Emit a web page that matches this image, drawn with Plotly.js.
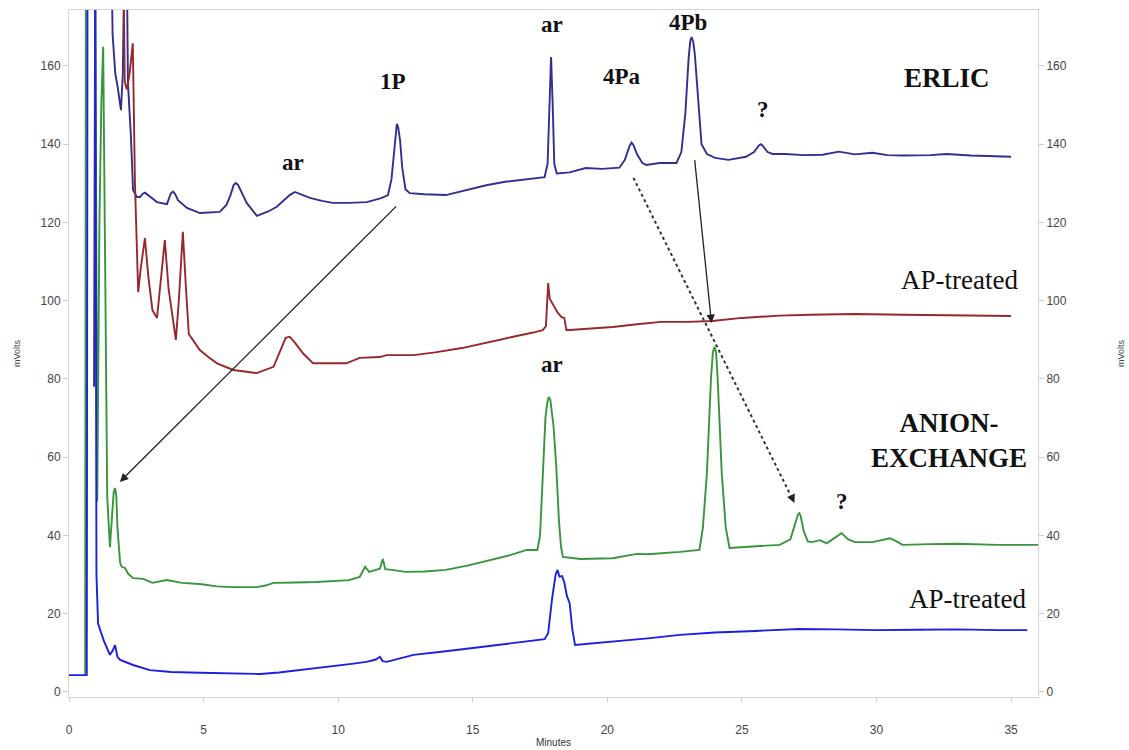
<!DOCTYPE html>
<html>
<head>
<meta charset="utf-8">
<script src="https://cdn.plot.ly/plotly-3.0.1.min.js"></script>
<style>html,body{margin:0;padding:0;background:#fff;}#chart{width:1129px;height:750px;}</style>
</head>
<body>
<div id="chart"></div>
<script>
// ERLIC trace (navy)
const erlicX = [0.93,0.98,1.55,1.62,1.72,1.8,1.93,2.0,2.08,2.13,2.19,2.3,2.38,2.52,2.64,2.73,2.82,2.9,3.0,3.27,3.64,3.78,3.86,3.94,4.05,4.38,4.86,5.6,5.85,6.0,6.12,6.2,6.28,6.4,6.6,6.98,7.4,7.72,8.0,8.2,8.39,8.6,8.95,9.4,9.8,10.4,11.06,11.6,11.85,11.98,12.08,12.13,12.18,12.23,12.3,12.38,12.5,12.66,13.2,14.0,14.8,15.5,16.2,16.9,17.67,17.78,17.85,17.91,17.97,18.03,18.12,18.6,19.2,19.8,20.45,20.65,20.83,20.9,20.97,21.1,21.3,21.45,21.94,22.57,22.75,22.9,23.02,23.08,23.13,23.19,23.25,23.38,23.5,23.7,24.0,24.5,25.15,25.45,25.63,25.7,25.77,25.95,26.14,26.6,27.3,28.0,28.6,29.2,29.85,30.4,31.0,32.0,32.6,33.5,34.3,35.0];
const erlicY = [78,200,200,168,158,155,148.7,158,200,200,155.6,142,128.3,126.5,126.5,127.3,127.6,127.2,126.5,125.2,124.7,127.4,127.9,127.3,125.7,123.7,122.4,122.7,124.5,127,129.6,130.1,129.6,128,125,121.7,122.8,124,125.8,127,127.8,127.3,126.3,125.5,125,125,125.2,126.2,127,131,139,143.3,145.2,144.3,141,134,128.5,127.5,127.2,127,128.3,129.5,130.4,131,131.6,135,150,162.3,150,135,132.5,132.8,133.9,133.7,134,136,139.6,140.4,139.8,137.5,135.2,134.7,135.2,135.2,138,148,162,166.3,167.4,166.2,163,150,140,137.5,136.5,136,136.8,138,139.7,140,139.6,138,137.5,137.5,137.2,137.3,138.1,137.4,137.8,137.2,137.1,137.2,137.5,137.1,136.9,136.8];

// ERLIC AP-treated trace (dark red)
const erlicApX = [0.95,2.0,2.07,2.15,2.25,2.37,2.45,2.57,2.66,2.82,2.95,3.1,3.27,3.4,3.56,3.7,3.97,4.08,4.23,4.33,4.45,4.6,4.86,5.2,5.5,6.1,6.97,7.6,7.85,8.05,8.2,8.4,8.7,9.07,10.3,10.8,11.55,11.8,12.8,13.6,14.6,15.6,16.5,17.2,17.6,17.72,17.8,17.86,17.93,18.05,18.15,18.3,18.4,18.48,18.6,19.4,20.2,21.1,22.0,23.0,23.9,25.0,26.4,27.5,29.2,31.0,33.0,35.0];
const erlicApY = [200,200,156,154,158,165.8,130,102.2,108,116,106,97.6,95.6,104,115.5,103,90,100,117.6,105,91.5,90,87.4,85.5,84,82.3,81.5,83.1,87,90.5,90.8,89.2,86.5,84,84,85.4,85.6,86.1,86.1,86.8,87.9,89.5,90.8,91.8,92.5,93.5,104.5,100.5,99.7,98.4,97,95.8,95.6,92.5,92.5,92.9,93.3,94,94.6,94.6,94.8,95.6,96.2,96.4,96.6,96.4,96.3,96.1];

// Anion-exchange trace (green)
const anionX = [0.6,0.63,0.97,1.05,1.13,1.2,1.27,1.33,1.42,1.52,1.6,1.66,1.71,1.76,1.8,1.9,1.96,2.08,2.2,2.38,2.76,3.1,3.63,4.2,4.86,5.5,6.1,6.97,7.3,7.6,8.4,9.2,10.4,10.8,11.0,11.15,11.4,11.55,11.66,11.75,12.0,12.5,13.2,14.0,14.8,15.6,16.4,17.0,17.4,17.5,17.6,17.7,17.76,17.82,17.88,17.94,18.0,18.1,18.2,18.28,18.35,19.0,20.2,21.1,21.5,22.7,23.42,23.55,23.7,23.85,23.92,23.98,24.04,24.1,24.25,24.4,24.54,25.4,26.4,26.8,27.0,27.08,27.13,27.18,27.3,27.45,27.6,27.9,28.15,28.45,28.7,28.95,29.2,29.85,30.2,30.5,30.8,30.96,32.0,33.0,34.5,36.0];
const anionY = [4.5,200,200,48.6,120,150,164.9,120,50,37,44,51,52.1,50,42,33,32,31.7,30.2,29.1,28.9,27.9,28.6,27.9,27.6,27,26.8,26.8,27.2,27.9,28,28.1,28.6,29.4,32,30.7,31.2,31.5,34,31.4,31.2,30.7,30.8,31.2,32.3,33.7,35,36.3,36.3,40,56,70,73.6,75.4,74.8,71.5,68,58,44,37,34.5,34,34.2,35.3,35.2,35.8,36.3,42,56,80,86.8,88.2,86.8,80,56,42,36.8,37.2,37.6,39,44,45.3,45.7,45,41,38.5,38.3,38.8,38,39.5,40.6,39,38.3,38.3,38.8,39.3,38.3,37.6,37.8,37.9,37.6,37.6];

// Anion-exchange AP-treated trace (blue)
const anionApX = [0,0.66,0.69,0.97,1.02,1.08,1.2,1.3,1.52,1.62,1.71,1.8,1.9,2.1,2.38,3.0,3.8,4.86,6.0,7.1,7.8,8.6,9.6,10.5,11.05,11.4,11.55,11.65,11.8,12.3,12.8,14.0,15.3,16.5,17.67,17.8,17.95,18.08,18.15,18.22,18.32,18.4,18.5,18.6,18.7,18.8,19.5,20.2,21.5,22.7,24.0,25.5,26.4,27.1,28.5,30.0,31.5,33.0,34.5,35.6];
const anionApY = [4.3,4.3,200,200,30,17.5,15,13,9.5,10.5,12,9,8.2,7.7,6.9,5.6,5.1,4.9,4.7,4.6,5.0,5.6,6.5,7.2,7.7,8.3,9.0,7.9,7.7,8.7,9.5,10.4,11.5,12.5,13.5,15,24,30,31.2,29.5,29.6,28,24.5,22.7,16,12,12.4,12.8,13.7,14.6,15.2,15.6,15.8,16.1,16.0,15.8,15.9,16.0,15.8,15.8];

const yTicks = [0,20,40,60,80,100,120,140,160];
const xTicks = [0,5,10,15,20,25,30,35];

function lineStyle(color) {
  return {color: color, width: 1.9};
}

const traces = [
  {x: erlicX, y: erlicY, mode: 'lines', line: lineStyle('rgb(48,48,145)'), hoverinfo: 'skip'},
  {x: erlicApX, y: erlicApY, mode: 'lines', line: lineStyle('rgb(150,40,45)'), hoverinfo: 'skip'},
  {x: anionX, y: anionY, mode: 'lines', line: lineStyle('rgb(55,150,60)'), hoverinfo: 'skip'},
  {x: anionApX, y: anionApY, mode: 'lines', line: lineStyle('rgb(30,30,225)'), hoverinfo: 'skip'},
  {x: anionApX, y: anionApY, yaxis: 'y2', mode: 'lines', line: {color: 'rgba(0,0,0,0)', width: 0}, hoverinfo: 'skip'}
];

const serif = 'Liberation Serif, Times New Roman, serif';
function lab(text, x, y, size, bold) {
  return {text: bold ? '<b>' + text + '</b>' : text, x: x, y: y, xref: 'x', yref: 'y',
    showarrow: false, xanchor: 'center', yanchor: 'middle',
    font: {family: serif, size: size, color: '#111'}};
}
function arrow(x, y, ax, ay) {
  return {x: x, y: y, ax: ax, ay: ay, xref: 'x', yref: 'y', axref: 'x', ayref: 'y',
    text: '', showarrow: true, arrowhead: 2, arrowsize: 1.3, arrowwidth: 1.3, arrowcolor: '#222'};
}

const annotations = [
  lab('ar', 8.31, 135.2, 23, true),
  lab('1P', 12.03, 155.9, 23, true),
  lab('ar', 17.93, 170.5, 23, true),
  lab('4Pa', 20.56, 157.2, 23, true),
  lab('4Pb', 23.01, 171.0, 23, true),
  lab('?', 25.8, 148.8, 23, true),
  lab('ERLIC', 32.63, 156.9, 27, true),
  lab('AP-treated', 33.07, 105.3, 27, false),
  lab('ar', 17.93, 83.8, 23, true),
  lab('ANION-<br>EXCHANGE', 32.7, 64.4, 27, true),
  lab('?', 28.73, 48.6, 23, true),
  lab('AP-treated', 33.37, 23.8, 27, false),
  arrow(1.89, 53.7, 12.21, 124.5),
  arrow(23.87, 94.3, 23.24, 136.3),
  {x: 26.95, y: 48.3, xref: 'x', yref: 'y', ax: -4, ay: -9, text: '', showarrow: true,
    arrowhead: 2, arrowsize: 1.3, arrowwidth: 1.3, arrowcolor: '#222'}
];

const shapes = [
  {type: 'line', xref: 'x', yref: 'y', x0: 20.97, y0: 131.4, x1: 26.8, y1: 50.4,
    line: {color: '#333', width: 2, dash: 'dot'}}
];

const axisFont = {family: 'Liberation Sans, Arial, sans-serif', size: 12, color: '#444'};
const yRange = [-1.28, 174.3];

const layout = {
  width: 1129, height: 750,
  margin: {l: 69, r: 91, t: 10, b: 53},
  paper_bgcolor: '#fff', plot_bgcolor: '#fff',
  showlegend: false,
  xaxis: {
    range: [0, 36], tickvals: xTicks, ticktext: xTicks.map(String),
    showgrid: false, zeroline: false, showline: true, linecolor: '#d6d6d6', linewidth: 1, mirror: true,
    ticks: 'outside', ticklen: 4, tickcolor: '#cfcfcf', tickfont: axisFont, ticklabelstandoff: 18,
    title: {text: 'Minutes', font: {family: 'Liberation Sans, Arial, sans-serif', size: 10, color: '#333'}, standoff: 2}
  },
  yaxis: {
    range: yRange, tickvals: yTicks, ticktext: yTicks.map(String),
    showgrid: false, zeroline: false, showline: true, linecolor: '#d6d6d6', linewidth: 1,
    ticks: 'outside', ticklen: 5, tickcolor: '#cfcfcf', tickfont: axisFont,
    title: {text: 'mVolts', font: {family: 'Liberation Sans, Arial, sans-serif', size: 9, color: '#444'}, standoff: 18}
  },
  yaxis2: {
    range: yRange, overlaying: 'y', side: 'right', tickvals: yTicks, ticktext: yTicks.map(String),
    showgrid: false, zeroline: false, showline: true, linecolor: '#d6d6d6', linewidth: 1,
    ticks: 'outside', ticklen: 5, tickcolor: '#cfcfcf', tickfont: axisFont,
    title: {text: 'mVolts', font: {family: 'Liberation Sans, Arial, sans-serif', size: 9, color: '#444'}, standoff: 51}
  },
  annotations: annotations,
  shapes: shapes
};

Plotly.newPlot('chart', traces, layout, {staticPlot: true, displayModeBar: false});
</script>
</body>
</html>
